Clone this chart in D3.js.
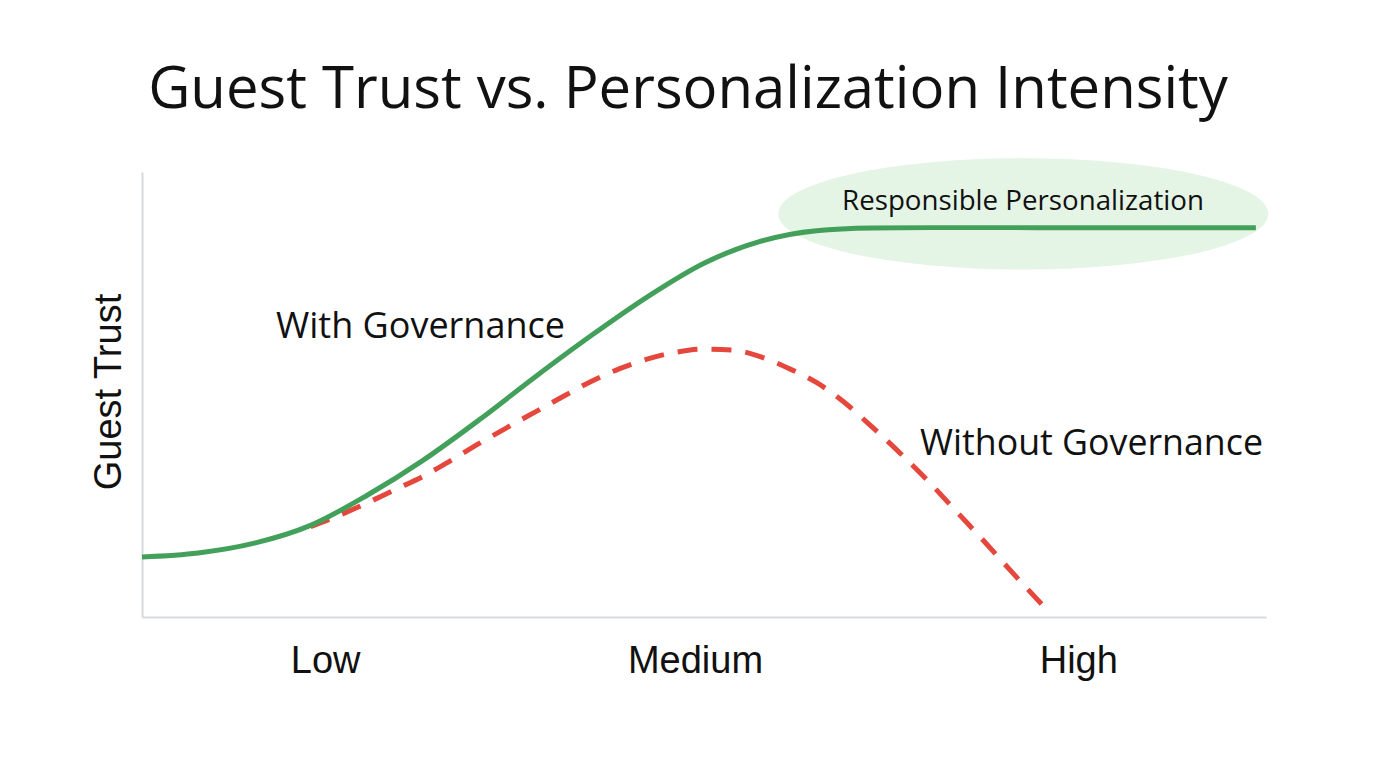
<!DOCTYPE html>
<html>
<head>
<meta charset="utf-8">
<script src="https://cdn.jsdelivr.net/npm/d3@7"></script>
<style>
  html, body { margin: 0; padding: 0; background: #ffffff; }
  svg { display: block; }
</style>
</head>
<body>
<svg id="chart" width="1376" height="768"></svg>
<script>
// ---- Data ----
const title = "Guest Trust vs. Personalization Intensity";
const yAxisLabel = "Guest Trust";
const tickLabels = ["Low", "Medium", "High"];
const tickValues = [16.3, 49.2, 83.3];

const withGovX = [0, 5, 10, 15, 20, 25, 30, 35, 40, 45, 50, 55, 60, 65, 70, 99.1];
const withGovY = [13.5, 14.4, 16.6, 20.6, 27.3, 35.2, 44.3, 54.0, 63.3, 72.0, 79.5, 84.4, 86.8, 87.4, 87.5, 87.5];

const withoutGovX = [15, 17.5, 20, 22.5, 25, 27.5, 30, 32.5, 35, 37.5, 40, 42.5, 45, 47.5, 50, 52.5, 55, 57.5, 60, 62.5, 65, 67.5, 70, 72.5, 75, 77.5, 80.3];
const withoutGovY = [20.3, 22.8, 25.6, 28.6, 31.6, 35.2, 39.0, 42.6, 46.1, 49.6, 53.0, 55.8, 58.0, 59.5, 60.2, 60.0, 58.5, 55.9, 52.7, 48.2, 42.6, 36.7, 30.4, 23.6, 16.8, 9.8, 2.2];

const seriesLabels = ["With Governance", "Without Governance"];
const highlightLabel = "Responsible Personalization";
// highlight region in data units: center x, center y, half-width, half-height
const highlightRegion = [78.4, 90.6, 21.8, 12.5];

// ---- Layout ----
const svg = d3.select("#chart");
const x = d3.scaleLinear().domain([0, 100]).range([142, 1266]);
const y = d3.scaleLinear().domain([0, 100]).range([617, 172]);

const green = "#43a05a";
const red = "#e5473d";
const axisColor = "#d6d9dd";
const headFont = "'Open Sans', 'Noto Sans', sans-serif";
const tickFont = "'Liberation Sans', Arial, sans-serif";

function fitText(sel, targetWidth) {
  const node = sel.node();
  const fs = parseFloat(sel.attr("font-size"));
  const w = node.getComputedTextLength();
  sel.attr("font-size", (fs * targetWidth / w).toFixed(2));
}

// Title
const t = svg.append("text")
  .attr("x", 688).attr("y", 108)
  .attr("text-anchor", "middle")
  .attr("font-family", headFont)
  .attr("font-size", 54)
  .attr("fill", "#111")
  .text(title);
fitText(t, 1080);

// Highlight ellipse
svg.append("ellipse")
  .attr("cx", x(highlightRegion[0]))
  .attr("cy", y(highlightRegion[1]))
  .attr("rx", x(highlightRegion[0] + highlightRegion[2]) - x(highlightRegion[0]))
  .attr("ry", y(highlightRegion[1]) - y(highlightRegion[1] + highlightRegion[3]))
  .attr("fill", "#e4f4e5");

// Axes
const xAxis = d3.axisBottom(x).tickValues(tickValues)
  .tickFormat((d, i) => tickLabels[i]).tickSize(0).tickPadding(28);
const gx = svg.append("g").attr("transform", `translate(0,${y(0)})`).call(xAxis);
gx.select(".domain").attr("stroke", axisColor).attr("stroke-width", 2);
gx.selectAll(".tick text")
  .attr("font-family", tickFont)
  .attr("font-size", 38)
  .attr("fill", "#111")
  .attr("dy", 0).attr("y", 56);

const yAxis = d3.axisLeft(y).tickValues([]).tickSize(0);
const gy = svg.append("g").attr("transform", `translate(${x(0)},0)`).call(yAxis);
gy.select(".domain").attr("stroke", axisColor).attr("stroke-width", 2);

// Y axis label
svg.append("text")
  .attr("transform", "translate(121,392) rotate(-90)")
  .attr("text-anchor", "middle")
  .attr("font-family", tickFont)
  .attr("font-size", 38)
  .attr("fill", "#111")
  .text(yAxisLabel);

// Lines
const line = d3.line().x(d => x(d[0])).y(d => y(d[1])).curve(d3.curveMonotoneX);
const withoutData = withoutGovX.map((v, i) => [v, withoutGovY[i]]);
const withData = withGovX.map((v, i) => [v, withGovY[i]]);

svg.append("path")
  .attr("d", line(withoutData))
  .attr("fill", "none")
  .attr("stroke", red)
  .attr("stroke-width", 5)
  .attr("stroke-dasharray", "20,14");

svg.append("path")
  .attr("d", line(withData))
  .attr("fill", "none")
  .attr("stroke", green)
  .attr("stroke-width", 5)
  .attr("stroke-linecap", "butt");

// Annotations
const a1 = svg.append("text")
  .attr("x", 276).attr("y", 338)
  .attr("font-family", headFont).attr("font-size", 32).attr("fill", "#111")
  .text(seriesLabels[0]);
fitText(a1, 289);

const a2 = svg.append("text")
  .attr("x", 920).attr("y", 455)
  .attr("font-family", headFont).attr("font-size", 32).attr("fill", "#111")
  .text(seriesLabels[1]);
fitText(a2, 343);

const a3 = svg.append("text")
  .attr("x", 1023).attr("y", 210)
  .attr("text-anchor", "middle")
  .attr("font-family", headFont).attr("font-size", 26).attr("fill", "#111")
  .text(highlightLabel);
fitText(a3, 362);
</script>
</body>
</html>
